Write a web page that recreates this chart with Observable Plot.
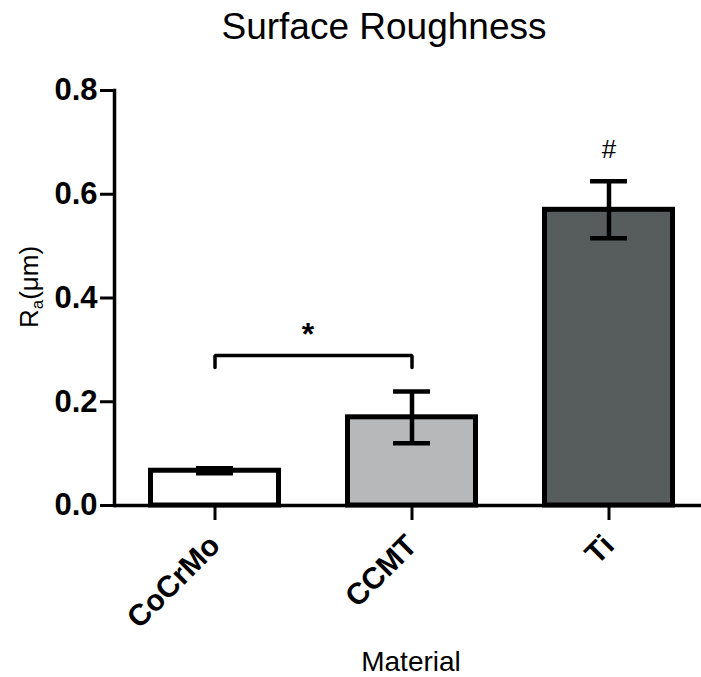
<!DOCTYPE html>
<html><head><meta charset="utf-8">
<script src="https://cdn.jsdelivr.net/npm/d3@7"></script>
<script src="https://cdn.jsdelivr.net/npm/@observablehq/plot@0.6"></script>
<style>
html,body{margin:0;padding:0;background:#fff;}
</style></head><body><div id="chart"></div>
<script>
// ---- data ----
const categories = ["CoCrMo", "CCMT", "Ti"];
const means = [0.067, 0.17, 0.57];
const sds = [0.005, 0.05, 0.055];
const yTicks = [0, 0.2, 0.4, 0.6, 0.8];
const titleText = "Surface Roughness";
const xLabel = "Material";
const yLabel = "Ra(μm)";
// significance annotations
const bracketCats = ["CoCrMo", "CoCrMo", "CCMT", "CCMT"];
const bracketVals = [0.266, 0.289, 0.289, 0.266];
const starCat = "CoCrMo";
const starVal = 0.33;
const hashCat = "Ti";
const hashVal = 0.686;

const rows = categories.map((c, i) => ({cat: c, mean: means[i], lo: means[i] - sds[i], hi: means[i] + sds[i]}));
const bracket = bracketCats.map((c, i) => ({cat: c, v: bracketVals[i]}));

const font = "'Liberation Sans', Arial, Helvetica, sans-serif";

const chart = Plot.plot({
  width: 701,
  height: 677,
  marginLeft: 114,
  marginRight: 0,
  marginTop: 90,
  marginBottom: 172,
  style: {fontFamily: font, background: "#fff", color: "#000"},
  x: {domain: categories, paddingInner: 0.327, paddingOuter: 0.15, align: 0.56},
  y: {domain: [0, 0.8]},
  color: {type: "ordinal", domain: categories, range: ["#ffffff", "#b7b8ba", "#575c5d"]},
  marks: [
    Plot.barY(rows, {x: "cat", y: "mean", fill: "cat", stroke: "#000", strokeWidth: 5, insetLeft: 2.5, insetRight: 2.5}),
    Plot.ruleX(rows, {x: "cat", y1: "lo", y2: "hi", stroke: "#000", strokeWidth: 4.5}),
    Plot.tickY(rows, {x: "cat", y: "lo", stroke: "#000", strokeWidth: 4.5, insetLeft: 48, insetRight: 48}),
    Plot.tickY(rows, {x: "cat", y: "hi", stroke: "#000", strokeWidth: 4.5, insetLeft: 48, insetRight: 48}),
    Plot.line(bracket, {x: "cat", y: "v", stroke: "#000", strokeWidth: 3.5, strokeLinejoin: "miter"}),
    Plot.text(["*"], {x: () => starCat, y: () => starVal, dx: 93, fontSize: 32, fontWeight: "bold"}),
    Plot.text(["#"], {x: () => hashCat, y: () => hashVal, fontSize: 26}),
    Plot.ruleY([0], {stroke: "#000", strokeWidth: 3.5}),
    Plot.frame({anchor: "left", stroke: "#000", strokeWidth: 3.5}),
    Plot.axisY({ticks: yTicks, tickFormat: d3.format(".1f"), tickSize: 14, tickPadding: 3, fontSize: 31, fontWeight: "bold", label: null, strokeWidth: 3}),
    Plot.axisX({tickRotate: -45, tickSize: 15, tickPadding: 20, fontSize: 30, fontWeight: "bold", label: null, strokeWidth: 3}),
    Plot.text([titleText], {frameAnchor: "top", dx: -24, dy: -52, lineAnchor: "bottom", fontSize: 37}),
    Plot.text([xLabel], {frameAnchor: "bottom", dx: 3, dy: 165, lineAnchor: "bottom", fontSize: 28}),
    Plot.text([yLabel], {frameAnchor: "left", textAnchor: "middle", rotate: -90, dx: -77, dy: -11, lineAnchor: "bottom", fontSize: 26})
  ]
});

// render the subscript "a" in the y label
d3.select(chart).selectAll("text").filter(function() { return this.textContent === yLabel; }).each(function() {
  const t = d3.select(this);
  t.text("");
  t.append("tspan").text("R");
  t.append("tspan").attr("font-size", 17).attr("dy", 5).text("a");
  t.append("tspan").attr("dy", -5).text("(μm)");
});

document.getElementById("chart").appendChild(chart);
</script>
</body></html>
